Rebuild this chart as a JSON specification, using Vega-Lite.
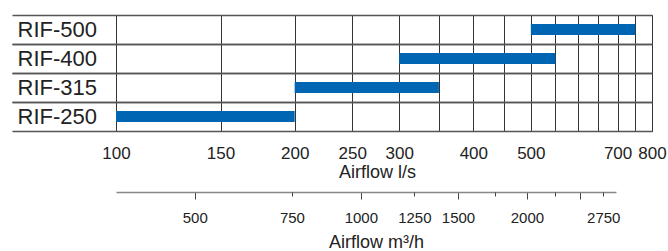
{
  "$schema": "https://vega.github.io/schema/vega-lite/v6.json",
  "width": 536,
  "height": 116,
  "autosize": {"type": "none"},
  "padding": {"left": 116, "top": 15, "right": 16, "bottom": 120},
  "background": "white",
  "config": {
    "view": {"stroke": "#444", "strokeWidth": 1},
    "font": "Liberation Sans",
    "axis": {"labelColor": "#222", "titleColor": "#222", "titleFontWeight": "normal"}
  },
  "datasets": {
    "models": [
      {"model": "RIF-250", "from": 100, "to": 200},
      {"model": "RIF-315", "from": 200, "to": 350},
      {"model": "RIF-400", "from": 300, "to": 550},
      {"model": "RIF-500", "from": 500, "to": 750}
    ],
    "m3h": [
      {"m3h": 500}, {"m3h": 750}, {"m3h": 1000}, {"m3h": 1250}, {"m3h": 1500},
      {"m3h": 1750}, {"m3h": 2000}, {"m3h": 2250}, {"m3h": 2500}, {"m3h": 2750}
    ]
  },
  "layer": [
    {
      "data": {"name": "models"},
      "mark": {"type": "bar", "color": "#0066b3", "size": 11},
      "encoding": {
        "y": {
          "field": "model", "type": "nominal",
          "sort": ["RIF-500", "RIF-400", "RIF-315", "RIF-250"],
          "scale": {"paddingInner": 0, "paddingOuter": 0},
          "axis": {
            "orient": "left", "title": null, "domain": false,
            "ticks": false, "grid": false,
            "labelAlign": "left", "labelBaseline": "middle", "labelPadding": 99,
            "labelFontSize": 22
          }
        },
        "x": {
          "field": "from", "type": "quantitative",
          "scale": {"type": "log", "domain": [100, 800], "nice": false},
          "axis": {
            "values": [100, 150, 200, 250, 300, 350, 400, 450, 500, 550, 600, 650, 700, 750, 800],
            "grid": true, "gridColor": "#333", "gridOpacity": 1, "gridWidth": 1,
            "ticks": false, "domain": false,
            "labelExpr": "indexof([100,150,200,250,300,400,500,700,800], datum.value) >= 0 ? datum.label : ''",
            "labelOverlap": false, "labelFlush": false, "labelFontSize": 17,
            "labelBaseline": "alphabetic", "labelPadding": 27,
            "title": "Airflow l/s", "titleFontSize": 18, "titleX": 261, "titleY": 46,
            "titleBaseline": "alphabetic", "titleAlign": "center"
          }
        },
        "x2": {"field": "to"}
      }
    },
    {
      "data": {"name": "models"},
      "mark": {"type": "point", "opacity": 0},
      "encoding": {
        "y": {
          "field": "model", "type": "nominal",
          "sort": ["RIF-500", "RIF-400", "RIF-315", "RIF-250"],
          "axis": {
            "orient": "left", "title": null, "bandPosition": 0.0001, "domain": false,
            "labels": false, "ticks": true, "tickSize": 104, "tickColor": "#555", "tickWidth": 1.3,
            "grid": true, "gridColor": "#555", "gridWidth": 1.3, "gridOpacity": 1
          }
        }
      }
    },
    {
      "data": {"name": "models"},
      "mark": {"type": "point", "opacity": 0},
      "encoding": {
        "y": {
          "field": "model", "type": "nominal",
          "sort": ["RIF-500", "RIF-400", "RIF-315", "RIF-250"],
          "axis": {
            "orient": "left", "title": null, "bandPosition": 1, "domain": false,
            "labels": false, "ticks": true, "tickSize": 104, "tickColor": "#555", "tickWidth": 1.3,
            "grid": true, "gridColor": "#555", "gridWidth": 1.3, "gridOpacity": 1
          }
        }
      }
    },
    {
      "data": {"name": "m3h"},
      "mark": {"type": "point", "opacity": 0},
      "encoding": {
        "x": {
          "field": "m3h", "type": "quantitative",
          "scale": {"type": "log", "domain": [360, 2900], "range": [0, 500], "nice": false},
          "axis": {
            "orient": "bottom", "offset": 61, "grid": false,
            "values": [500, 1000, 1500, 2000, 2500],
            "labelExpr": "indexof([500,1000,1500,2000], datum.value) >= 0 ? datum.label : ''",
            "format": "d",
            "domainColor": "#888", "domainWidth": 1.5, "tickColor": "#444", "tickSize": 7, "tickWidth": 1,
            "labelOverlap": false, "labelFlush": false, "labelFontSize": 15,
            "labelBaseline": "alphabetic", "labelPadding": 23,
            "title": "Airflow m³/h", "titleFontSize": 18, "titleX": 260, "titleY": 55,
            "titleBaseline": "alphabetic", "titleAlign": "center"
          }
        }
      }
    },
    {
      "data": {"name": "m3h"},
      "mark": {"type": "point", "opacity": 0},
      "encoding": {
        "x": {
          "field": "m3h", "type": "quantitative",
          "scale": {"type": "log", "domain": [360, 2900], "range": [0, 500], "nice": false},
          "axis": {
            "orient": "bottom", "offset": 61, "grid": false, "domain": false,
            "values": [750, 1250, 1750, 2250, 2750],
            "labelExpr": "indexof([750,1250,2750], datum.value) >= 0 ? datum.label : ''",
            "format": "d",
            "tickColor": "#444", "tickSize": 4, "tickWidth": 1,
            "labelOverlap": false, "labelFlush": false, "labelFontSize": 15,
            "labelBaseline": "alphabetic", "labelPadding": 26,
            "title": null
          }
        }
      }
    }
  ],
  "resolve": {"scale": {"x": "independent"}, "axis": {"x": "independent", "y": "independent"}}
}
